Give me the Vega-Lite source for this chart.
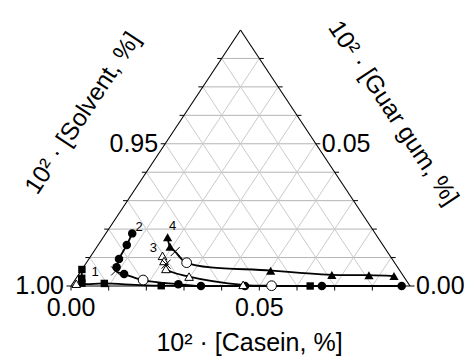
{
  "$schema": "https://vega.github.io/schema/vega-lite/v6.json",
  "width": 339,
  "height": 256,
  "autosize": "none",
  "padding": {"left": 71, "top": 30, "right": 59, "bottom": 77},
  "background": "white",
  "config": {"view": {"stroke": null}, "font": "Liberation Sans"},
  "datasets": {
    "grid": [
      {"fam": "h", "c1": 0, "g1": 0.01, "c2": 0.08, "g2": 0.01},
      {"fam": "h", "c1": 0, "g1": 0.02, "c2": 0.07, "g2": 0.02},
      {"fam": "h", "c1": 0, "g1": 0.03, "c2": 0.06, "g2": 0.03},
      {"fam": "h", "c1": 0, "g1": 0.04, "c2": 0.05, "g2": 0.04},
      {"fam": "h", "c1": 0, "g1": 0.05, "c2": 0.04, "g2": 0.05},
      {"fam": "h", "c1": 0, "g1": 0.06, "c2": 0.03, "g2": 0.06},
      {"fam": "h", "c1": 0, "g1": 0.07, "c2": 0.02, "g2": 0.07},
      {"fam": "h", "c1": 0, "g1": 0.08, "c2": 0.01, "g2": 0.08},
      {"fam": "d", "c1": 0.01, "g1": 0, "c2": 0.01, "g2": 0.08},
      {"fam": "d", "c1": 0.02, "g1": 0, "c2": 0.02, "g2": 0.07},
      {"fam": "d", "c1": 0.03, "g1": 0, "c2": 0.03, "g2": 0.06},
      {"fam": "d", "c1": 0.04, "g1": 0, "c2": 0.04, "g2": 0.05},
      {"fam": "d", "c1": 0.05, "g1": 0, "c2": 0.05, "g2": 0.04},
      {"fam": "d", "c1": 0.06, "g1": 0, "c2": 0.06, "g2": 0.03},
      {"fam": "d", "c1": 0.07, "g1": 0, "c2": 0.07, "g2": 0.02},
      {"fam": "d", "c1": 0.08, "g1": 0, "c2": 0.08, "g2": 0.01},
      {"fam": "d", "c1": 0.01, "g1": 0, "c2": 0, "g2": 0.01},
      {"fam": "d", "c1": 0.02, "g1": 0, "c2": 0, "g2": 0.02},
      {"fam": "d", "c1": 0.03, "g1": 0, "c2": 0, "g2": 0.03},
      {"fam": "d", "c1": 0.04, "g1": 0, "c2": 0, "g2": 0.04},
      {"fam": "d", "c1": 0.05, "g1": 0, "c2": 0, "g2": 0.05},
      {"fam": "d", "c1": 0.06, "g1": 0, "c2": 0, "g2": 0.06},
      {"fam": "d", "c1": 0.07, "g1": 0, "c2": 0, "g2": 0.07},
      {"fam": "d", "c1": 0.08, "g1": 0, "c2": 0, "g2": 0.08}
    ],
    "edges": [
      {"c1": 0, "g1": 0, "c2": 0.09, "g2": 0},
      {"c1": 0, "g1": 0, "c2": 0, "g2": 0.09},
      {"c1": 0.09, "g1": 0, "c2": 0, "g2": 0.09}
    ],
    "ticks": [
      {"side": "L", "casein": 0, "guar": 0},
      {"side": "L", "casein": 0, "guar": 0.01},
      {"side": "L", "casein": 0, "guar": 0.02},
      {"side": "L", "casein": 0, "guar": 0.03},
      {"side": "L", "casein": 0, "guar": 0.04},
      {"side": "L", "casein": 0, "guar": 0.05},
      {"side": "L", "casein": 0, "guar": 0.06},
      {"side": "L", "casein": 0, "guar": 0.07},
      {"side": "L", "casein": 0, "guar": 0.08},
      {"side": "B", "casein": 0, "guar": 0},
      {"side": "B", "casein": 0.01, "guar": 0},
      {"side": "B", "casein": 0.02, "guar": 0},
      {"side": "B", "casein": 0.03, "guar": 0},
      {"side": "B", "casein": 0.04, "guar": 0},
      {"side": "B", "casein": 0.05, "guar": 0},
      {"side": "B", "casein": 0.06, "guar": 0},
      {"side": "B", "casein": 0.07, "guar": 0},
      {"side": "B", "casein": 0.08, "guar": 0},
      {"side": "R", "casein": 0.09, "guar": 0},
      {"side": "R", "casein": 0.08, "guar": 0.01},
      {"side": "R", "casein": 0.07, "guar": 0.02},
      {"side": "R", "casein": 0.06, "guar": 0.03},
      {"side": "R", "casein": 0.05, "guar": 0.04},
      {"side": "R", "casein": 0.04, "guar": 0.05},
      {"side": "R", "casein": 0.03, "guar": 0.06},
      {"side": "R", "casein": 0.02, "guar": 0.07},
      {"side": "R", "casein": 0.01, "guar": 0.08}
    ],
    "pts": [
      {"s": "1", "i": 1, "casein": 0.0, "guar": 0.0058, "m": "sq"},
      {"s": "1", "i": 2, "casein": 0.0015, "guar": 0.0027, "m": "sq"},
      {"s": "1", "i": 3, "casein": 0.0024, "guar": 0.001, "m": "sq"},
      {"s": "1", "i": 4, "casein": 0.0084, "guar": 0.0009, "m": "sq"},
      {"s": "1", "i": 5, "casein": 0.0239, "guar": 0.0001, "m": "sq"},
      {"s": "1", "i": 6, "casein": 0.0635, "guar": 0.0, "m": "sq"},
      {"s": "2", "i": 1, "casein": 0.007, "guar": 0.0185, "m": "fc"},
      {"s": "2", "i": 2, "casein": 0.0076, "guar": 0.0144, "m": "fc"},
      {"s": "2", "i": 3, "casein": 0.008, "guar": 0.0095, "m": "fc"},
      {"s": "2", "i": 4, "casein": 0.0088, "guar": 0.0066, "m": "fc"},
      {"s": "2", "i": 5, "casein": 0.0092, "guar": 0.0053, "m": "x"},
      {"s": "2", "i": 6, "casein": 0.012, "guar": 0.0042, "m": "fc"},
      {"s": "2", "i": 7, "casein": 0.0181, "guar": 0.0021, "m": "oc"},
      {"s": "2", "i": 8, "casein": 0.0282, "guar": 0.0006, "m": "fc"},
      {"s": "2", "i": 9, "casein": 0.0345, "guar": 0.0, "m": "fc"},
      {"s": "2", "i": 10, "casein": 0.0462, "guar": 0.0, "m": "fc"},
      {"s": "2", "i": 11, "casein": 0.0666, "guar": 0.0, "m": "fc"},
      {"s": "2", "i": 12, "casein": 0.0878, "guar": 0.0, "m": "fc"},
      {"s": "3", "i": 1, "casein": 0.019, "guar": 0.0106, "m": "ot"},
      {"s": "3", "i": 2, "casein": 0.0203, "guar": 0.0088, "m": "ot"},
      {"s": "3", "i": 3, "casein": 0.0214, "guar": 0.0077, "m": "x"},
      {"s": "3", "i": 4, "casein": 0.0222, "guar": 0.006, "m": "ot"},
      {"s": "3", "i": 5, "casein": 0.0297, "guar": 0.0033, "m": "ot"},
      {"s": "3", "i": 6, "casein": 0.0455, "guar": 0.0004, "m": "ot"},
      {"s": "3", "i": 7, "casein": 0.0532, "guar": 0.0001, "m": "oc"},
      {"s": "4", "i": 1, "casein": 0.0171, "guar": 0.0171, "m": "ft"},
      {"s": "4", "i": 2, "casein": 0.0194, "guar": 0.0138, "m": "ft"},
      {"s": "4", "i": 3, "casein": 0.0216, "guar": 0.0121, "m": "x"},
      {"s": "4", "i": 4, "casein": 0.0266, "guar": 0.0082, "m": "oc"},
      {"s": "4", "i": 5, "casein": 0.0503, "guar": 0.0054, "m": "ft"},
      {"s": "4", "i": 6, "casein": 0.0673, "guar": 0.0039, "m": "ft"},
      {"s": "4", "i": 7, "casein": 0.0772, "guar": 0.0038, "m": "ft"},
      {"s": "4", "i": 8, "casein": 0.084, "guar": 0.0035, "m": "ft"},
      {"s": "0", "i": 1, "casein": 0.001, "guar": 0.0008, "m": "ot"}
    ],
    "serieslabels": [
      {"t": "1", "casein": 0.0039, "guar": 0.005},
      {"t": "2", "casein": 0.0077, "guar": 0.0208},
      {"t": "3", "casein": 0.0152, "guar": 0.0133},
      {"t": "4", "casein": 0.0164, "guar": 0.0212}
    ],
    "lblL": [
      {"t": "1.00", "casein": 0, "guar": 0},
      {"t": "0.95", "casein": 0, "guar": 0.05}
    ],
    "lblB": [
      {"t": "0.00", "casein": 0, "guar": 0},
      {"t": "0.05", "casein": 0.05, "guar": 0}
    ],
    "lblR": [
      {"t": "0.00", "casein": 0.09, "guar": 0},
      {"t": "0.05", "casein": 0.04, "guar": 0.05}
    ],
    "titleL": [{"t": "10² · [Solvent, %]", "casein": 0, "guar": 0.045}],
    "titleR": [{"t": "10² · [Guar gum, %]", "casein": 0.045, "guar": 0.045}],
    "titleB": [{"t": "10² · [Casein, %]", "casein": 0.045, "guar": 0}]
  },
  "layer": [
    {
      "data": {"name": "grid"},
      "transform": [
        {"calculate": "datum.c1 + datum.g1 / 2", "as": "x1"},
        {"calculate": "datum.c2 + datum.g2 / 2", "as": "x2"}
      ],
      "mark": {"type": "rule", "strokeWidth": 1},
      "encoding": {
        "x": {"field": "x1", "type": "quantitative", "scale": {"domain": [0, 0.09], "nice": false, "zero": false}, "axis": null},
        "y": {"field": "g1", "type": "quantitative", "scale": {"domain": [0, 0.09], "nice": false, "zero": false}, "axis": null},
        "x2": {"field": "x2"},
        "y2": {"field": "g2"},
        "color": {"field": "fam", "type": "nominal", "scale": {"domain": ["h", "d"], "range": ["#b4b4b4", "#cbcbcb"]}, "legend": null}
      }
    },
    {
      "data": {"name": "edges"},
      "transform": [
        {"calculate": "datum.c1 + datum.g1 / 2", "as": "x1"},
        {"calculate": "datum.c2 + datum.g2 / 2", "as": "x2"}
      ],
      "mark": {"type": "rule", "strokeWidth": 1.1, "color": "black"},
      "encoding": {
        "x": {"field": "x1", "type": "quantitative"},
        "y": {"field": "g1", "type": "quantitative"},
        "x2": {"field": "x2"},
        "y2": {"field": "g2"}
      }
    },
    {
      "data": {"name": "ticks"},
      "transform": [{"calculate": "datum.casein + datum.guar / 2", "as": "tx"}],
      "mark": {"type": "point", "filled": false, "color": "black", "strokeWidth": 1, "size": 81, "opacity": 1},
      "encoding": {
        "x": {"field": "tx", "type": "quantitative"},
        "y": {"field": "guar", "type": "quantitative"},
        "shape": {"field": "side", "type": "nominal", "scale": {"domain": ["L", "B", "R"], "range": ["M-1,0L0,0", "M0,0L0,1", "M0,0L1,0"]}, "legend": null}
      }
    },
    {
      "data": {"name": "pts"},
      "transform": [{"calculate": "datum.casein + datum.guar / 2", "as": "tx"}],
      "mark": {"type": "line", "color": "black", "strokeWidth": 1.8, "interpolate": "catmull-rom"},
      "encoding": {
        "x": {"field": "tx", "type": "quantitative"},
        "y": {"field": "guar", "type": "quantitative"},
        "detail": {"field": "s", "type": "nominal"},
        "order": {"field": "i", "type": "quantitative"}
      }
    },
    {
      "data": {"name": "pts"},
      "transform": [{"filter": "datum.m === 'sq'"}, {"calculate": "datum.casein + datum.guar / 2", "as": "tx"}],
      "mark": {"type": "point", "shape": "square", "filled": true, "color": "black", "size": 55, "opacity": 1},
      "encoding": {
        "x": {"field": "tx", "type": "quantitative"},
        "y": {"field": "guar", "type": "quantitative"}
      }
    },
    {
      "data": {"name": "pts"},
      "transform": [{"filter": "datum.m === 'fc'"}, {"calculate": "datum.casein + datum.guar / 2", "as": "tx"}],
      "mark": {"type": "point", "shape": "circle", "filled": true, "color": "black", "size": 72, "opacity": 1},
      "encoding": {
        "x": {"field": "tx", "type": "quantitative"},
        "y": {"field": "guar", "type": "quantitative"}
      }
    },
    {
      "data": {"name": "pts"},
      "transform": [{"filter": "datum.m === 'ft'"}, {"calculate": "datum.casein + datum.guar / 2", "as": "tx"}],
      "mark": {"type": "point", "shape": "triangle-up", "filled": true, "color": "black", "size": 85, "opacity": 1},
      "encoding": {
        "x": {"field": "tx", "type": "quantitative"},
        "y": {"field": "guar", "type": "quantitative"}
      }
    },
    {
      "data": {"name": "pts"},
      "transform": [{"filter": "datum.m === 'ot'"}, {"calculate": "datum.casein + datum.guar / 2", "as": "tx"}],
      "mark": {"type": "point", "shape": "triangle-up", "fill": "white", "stroke": "black", "strokeWidth": 1, "size": 75, "opacity": 1, "fillOpacity": 1},
      "encoding": {
        "x": {"field": "tx", "type": "quantitative"},
        "y": {"field": "guar", "type": "quantitative"}
      }
    },
    {
      "data": {"name": "pts"},
      "transform": [{"filter": "datum.m === 'oc'"}, {"calculate": "datum.casein + datum.guar / 2", "as": "tx"}],
      "mark": {"type": "point", "shape": "circle", "fill": "white", "stroke": "black", "strokeWidth": 1, "size": 95, "opacity": 1, "fillOpacity": 1},
      "encoding": {
        "x": {"field": "tx", "type": "quantitative"},
        "y": {"field": "guar", "type": "quantitative"}
      }
    },
    {
      "data": {"name": "pts"},
      "transform": [{"filter": "datum.m === 'x'"}, {"calculate": "datum.casein + datum.guar / 2", "as": "tx"}],
      "mark": {"type": "point", "shape": "M-1,-1L1,1M-1,1L1,-1", "filled": false, "color": "black", "strokeWidth": 1, "size": 81, "opacity": 1},
      "encoding": {
        "x": {"field": "tx", "type": "quantitative"},
        "y": {"field": "guar", "type": "quantitative"}
      }
    },
    {
      "data": {"name": "serieslabels"},
      "transform": [{"calculate": "datum.casein + datum.guar / 2", "as": "tx"}],
      "mark": {"type": "text", "fontSize": 13, "align": "center", "baseline": "middle", "color": "black", "font": "Liberation Sans"},
      "encoding": {
        "x": {"field": "tx", "type": "quantitative"},
        "y": {"field": "guar", "type": "quantitative"},
        "text": {"field": "t"}
      }
    },
    {
      "data": {"name": "lblL"},
      "transform": [{"calculate": "datum.casein + datum.guar / 2", "as": "tx"}],
      "mark": {"type": "text", "fontSize": 25, "align": "right", "baseline": "middle", "dx": -7, "color": "black", "font": "Liberation Sans"},
      "encoding": {
        "x": {"field": "tx", "type": "quantitative"},
        "y": {"field": "guar", "type": "quantitative"},
        "text": {"field": "t"}
      }
    },
    {
      "data": {"name": "lblB"},
      "transform": [{"calculate": "datum.casein + datum.guar / 2", "as": "tx"}],
      "mark": {"type": "text", "fontSize": 25, "align": "center", "baseline": "middle", "dy": 22, "color": "black", "font": "Liberation Sans"},
      "encoding": {
        "x": {"field": "tx", "type": "quantitative"},
        "y": {"field": "guar", "type": "quantitative"},
        "text": {"field": "t"}
      }
    },
    {
      "data": {"name": "lblR"},
      "transform": [{"calculate": "datum.casein + datum.guar / 2", "as": "tx"}],
      "mark": {"type": "text", "fontSize": 25, "align": "left", "baseline": "middle", "dx": 6, "color": "black", "font": "Liberation Sans"},
      "encoding": {
        "x": {"field": "tx", "type": "quantitative"},
        "y": {"field": "guar", "type": "quantitative"},
        "text": {"field": "t"}
      }
    },
    {
      "data": {"name": "titleL"},
      "transform": [{"calculate": "datum.casein + datum.guar / 2", "as": "tx"}],
      "mark": {"type": "text", "fontSize": 24.5, "align": "center", "baseline": "middle", "angle": 303.5, "dx": -3, "dy": -85, "color": "black", "font": "Liberation Sans"},
      "encoding": {
        "x": {"field": "tx", "type": "quantitative"},
        "y": {"field": "guar", "type": "quantitative"},
        "text": {"field": "t"}
      }
    },
    {
      "data": {"name": "titleR"},
      "transform": [{"calculate": "datum.casein + datum.guar / 2", "as": "tx"}],
      "mark": {"type": "text", "fontSize": 24.5, "align": "center", "baseline": "middle", "angle": 56.5, "dx": 0, "dy": -81, "color": "black", "font": "Liberation Sans"},
      "encoding": {
        "x": {"field": "tx", "type": "quantitative"},
        "y": {"field": "guar", "type": "quantitative"},
        "text": {"field": "t"}
      }
    },
    {
      "data": {"name": "titleB"},
      "transform": [{"calculate": "datum.casein + datum.guar / 2", "as": "tx"}],
      "mark": {"type": "text", "fontSize": 25, "align": "center", "baseline": "middle", "dx": 9, "dy": 57, "color": "black", "font": "Liberation Sans"},
      "encoding": {
        "x": {"field": "tx", "type": "quantitative"},
        "y": {"field": "guar", "type": "quantitative"},
        "text": {"field": "t"}
      }
    }
  ]
}
